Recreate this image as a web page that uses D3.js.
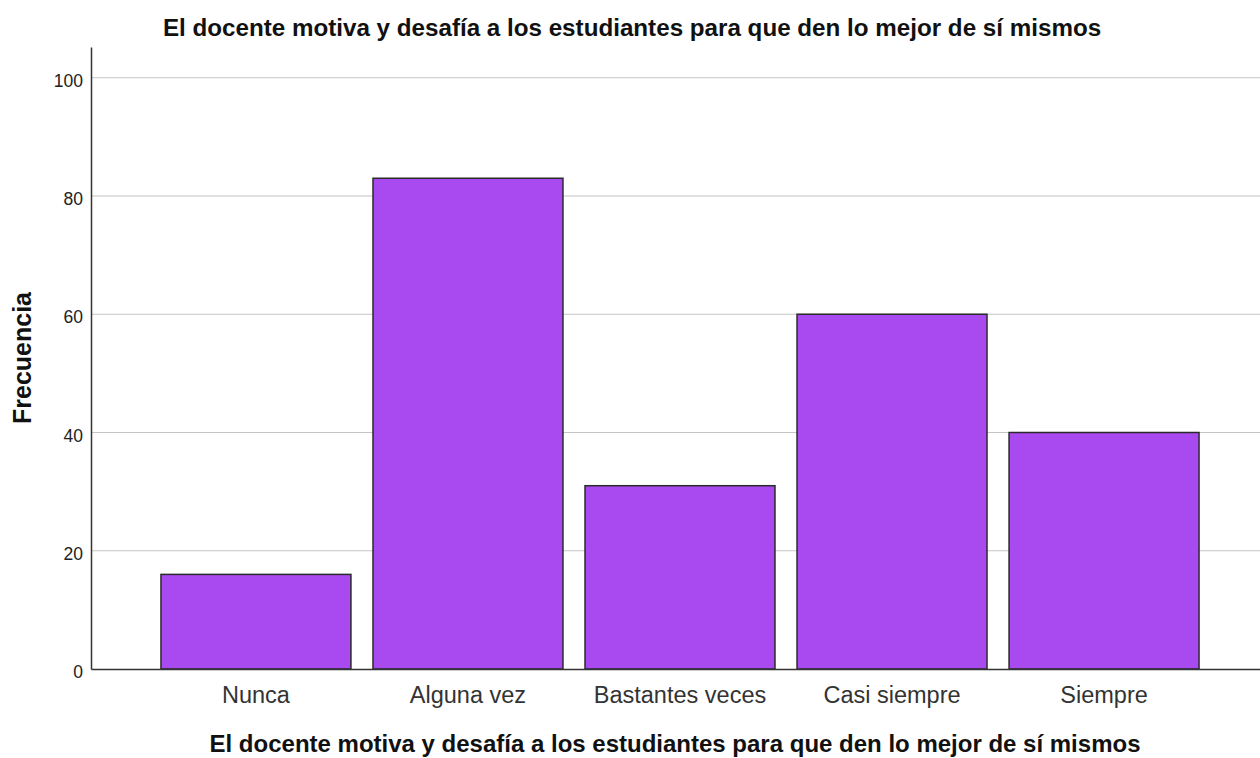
<!DOCTYPE html>
<html>
<head>
<meta charset="utf-8">
<script src="https://cdn.jsdelivr.net/npm/d3@7"></script>
<style>
  body { margin: 0; background: #fff; }
  text { font-family: "Liberation Sans", Arial, sans-serif; }
</style>
</head>
<body>
<div id="chart"></div>
<script>
// chart data
var categories = ["Nunca", "Alguna vez", "Bastantes veces", "Casi siempre", "Siempre"];
var frequencies = [16, 83, 31, 60, 40];
var yTicks = [0, 20, 40, 60, 80, 100];
var titleText = "El docente motiva y desafía a los estudiantes para que den lo mejor de sí mismos";

var svg = d3.select("#chart").append("svg")
  .attr("width", 1260)
  .attr("height", 758);

var margin = { top: 47, right: -9, bottom: 89, left: 91 };
var width = 1260 - margin.left - margin.right;
var height = 758 - margin.top - margin.bottom;

var x = d3.scaleBand()
  .domain(categories)
  .range([0, width])
  .paddingInner(0.104)
  .paddingOuter(0.33);

var y = d3.scaleLinear().domain([0, 105.2]).range([height, 0]);

var g = svg.append("g")
  .attr("transform", "translate(" + margin.left + "," + margin.top + ")");

// gridlines
g.append("g")
  .selectAll("line")
  .data(yTicks.filter(function (d) { return d > 0; }))
  .enter()
  .append("line")
  .attr("x1", 0)
  .attr("x2", width)
  .attr("y1", function (d) { return y(d); })
  .attr("y2", function (d) { return y(d); })
  .attr("stroke", "#c4c4c4")
  .attr("stroke-width", 1.2);

// bars
g.selectAll(".bar")
  .data(categories)
  .enter()
  .append("rect")
  .attr("class", "bar")
  .attr("x", function (d) { return x(d); })
  .attr("y", function (d, i) { return y(frequencies[i]); })
  .attr("width", x.bandwidth())
  .attr("height", function (d, i) { return height - y(frequencies[i]); })
  .style("fill", "#a84af0")
  .style("stroke", "#2a2a2a")
  .style("stroke-width", 1.5);

// y axis
var yAxis = g.append("g")
  .call(d3.axisLeft(y).tickValues(yTicks).tickSize(0).tickPadding(8));
yAxis.select(".domain").attr("stroke", "#333").attr("stroke-width", 1.5);
yAxis.selectAll("text")
  .style("font-size", "17.5px")
  .attr("dy", "0.5em")
  .attr("fill", "#222");

// x axis
var xAxis = g.append("g")
  .attr("transform", "translate(0," + height + ")")
  .call(d3.axisBottom(x).tickSize(0).tickPadding(17).tickSizeOuter(0));
xAxis.select(".domain").attr("stroke", "#333").attr("stroke-width", 1.5);
xAxis.selectAll("text")
  .style("font-size", "23.5px")
  .attr("fill", "#333");

// title
svg.append("text")
  .attr("x", 632)
  .attr("y", 36)
  .attr("text-anchor", "middle")
  .style("font-size", "24.2px")
  .style("font-weight", "bold")
  .attr("fill", "#111")
  .text(titleText);

// x axis title
svg.append("text")
  .attr("x", 675)
  .attr("y", 752)
  .attr("text-anchor", "middle")
  .style("font-size", "24px")
  .style("font-weight", "bold")
  .attr("fill", "#111")
  .text(titleText);

// y axis title
svg.append("text")
  .attr("transform", "translate(31,358) rotate(-90)")
  .attr("text-anchor", "middle")
  .style("font-size", "25px")
  .style("font-weight", "bold")
  .attr("fill", "#111")
  .text("Frecuencia");
</script>
</body>
</html>
